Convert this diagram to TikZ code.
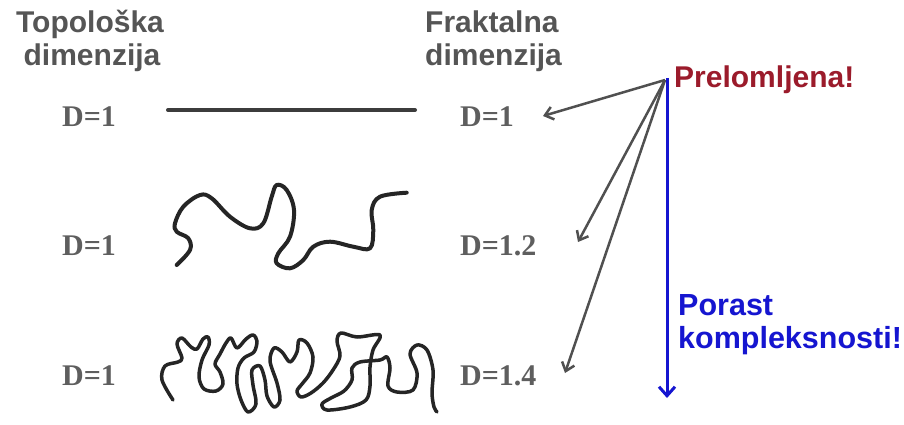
\documentclass[tikz,border=0pt]{standalone}
\usepackage{fontspec}
\setmainfont{Liberation Serif}
\setsansfont{Liberation Sans}
\usetikzlibrary{arrows.meta}
\definecolor{hdrgray}{HTML}{555555}
\definecolor{dgray}{HTML}{5E5E5E}
\definecolor{arrgray}{HTML}{505050}
\definecolor{curvec}{HTML}{252525}
\definecolor{darkred}{HTML}{9B1B2B}
\definecolor{myblue}{HTML}{1515D0}
\tikzset{
  hdr/.style={font=\sffamily\bfseries\fontsize{30}{30}\selectfont, text=hdrgray, inner sep=0pt},
  dlab/.style={font=\rmfamily\bfseries\fontsize{30}{30}\selectfont, text=dgray, inner sep=0pt, anchor=base west},
  redlab/.style={font=\sffamily\bfseries\fontsize{30}{30}\selectfont, text=darkred, inner sep=0pt, anchor=base west},
  bluelab/.style={font=\sffamily\bfseries\fontsize{30.5}{30.5}\selectfont, text=myblue, inner sep=0pt, anchor=base west},
  grayarr/.style={draw=arrgray, line width=2.5pt, -{Straight Barb[length=8pt,width=13pt,line width=2.5pt]}},
  bluearr/.style={draw=myblue, line width=3pt, -{Straight Barb[length=9pt,width=16pt,line width=3pt]}},
  curve/.style={draw=curvec, line width=4pt, line cap=round, line join=round}
}
\begin{document}
\begin{tikzpicture}[x=1pt,y=-1pt]
\useasboundingbox (0,0) rectangle (904,425);
\fill[white] (0,0) rectangle (904,425);
% headers
\node[hdr, anchor=base] (th1) at (90,33) {Topološka};
\node[hdr, anchor=base] (th2) at (92,66) {dimenzija};
\node[hdr, anchor=base west] (fh1) at (425,33) {Fraktalna};
\node[hdr, anchor=base west] (fh2) at (425,66) {dimenzija};
% D labels
\node[dlab] (l1) at (62,127) {D=1};
\node[dlab] (l2) at (62,255) {D=1};
\node[dlab] (l3) at (62,385) {D=1};
\node[dlab] (r1) at (460,127) {D=1};
\node[dlab] (r2) at (460,255) {D=1.2};
\node[dlab] (r3) at (460,385) {D=1.4};
% right labels
\node[redlab] (pre) at (674,88) {Prelomljena!};
\node[bluelab] (por) at (678,315) {Porast};
\node[bluelab] (kom) at (678,348) {kompleksnosti!};
% arrows
\coordinate (p) at (665,80);
\coordinate (pb) at (667,78);
\coordinate (bend) at (667,398);
\coordinate (t1) at (543,116);
\coordinate (t2) at (578,242);
\coordinate (t3) at (565,373);
\draw[grayarr] (p) -- (t1);
\draw[grayarr] (p) -- (t2);
\draw[grayarr] (p) -- (t3);
\draw[bluearr] (pb) -- (bend);
% curve 1
\draw[curve, line width=4pt, draw=hdrgray!70!black] (168,110) -- (415,110);
% curve 2
\draw[curve] plot[smooth, tension=0.6] coordinates {
(176.7,265) (190,250) (188.3,238.3) (176.7,231.7) (175,223.3) (183.3,206.7) (200,195) (211.7,198.3) (230,216.7) (250,228.3) (263.3,223.3) (271.7,196.7) (276.7,185) (286.7,190) (294,210) (290,236.7) (278.3,253.3) (276.7,263.3) (290,268.3) (303.3,260) (313.3,246.7) (330,241.7) (353.3,246.7) (370,248.3) (373.3,230) (371.7,210) (380,196.7) (406.7,192.7)};
% curve 3
\draw[curve, line width=3.5pt] plot[smooth, tension=0.55] coordinates {
(173,400) (162,380) (165,366) (178,362) (182,358) (177,344) (182,338) (191,347) (197,349) (203,339) (208,337) (209,345) (202,360) (199,377) (204,389) (216,391) (223,384) (220,372) (215,364) (220,354) (226,343) (231,338) (237,348) (246,339) (253,335) (257,341) (254,352) (244,358) (238,368) (237,384) (241,400) (248,412) (256,404) (253,385) (252,370) (260,366) (265,380) (267,396) (274,407) (280,400) (277,383) (270,361) (274,348) (282,352) (290,362) (297,352) (299,340) (307,343) (313,357) (310,373) (302,384) (297,391) (301,397) (311,393) (323,383) (333,370) (340,356) (337,341) (341,333) (357,337) (380,335) (373,350) (370,367) (370,386) (366,400) (350,407) (327,410) (322,404) (331,398) (344,391) (352,380) (352,368) (360,362) (380,360) (387,357) (390,368) (388,386) (397,392) (413,390) (417,373) (410,354) (417,345) (427,350) (433,370) (432,393) (434,407) (437,412)};
\end{tikzpicture}
\end{document}
